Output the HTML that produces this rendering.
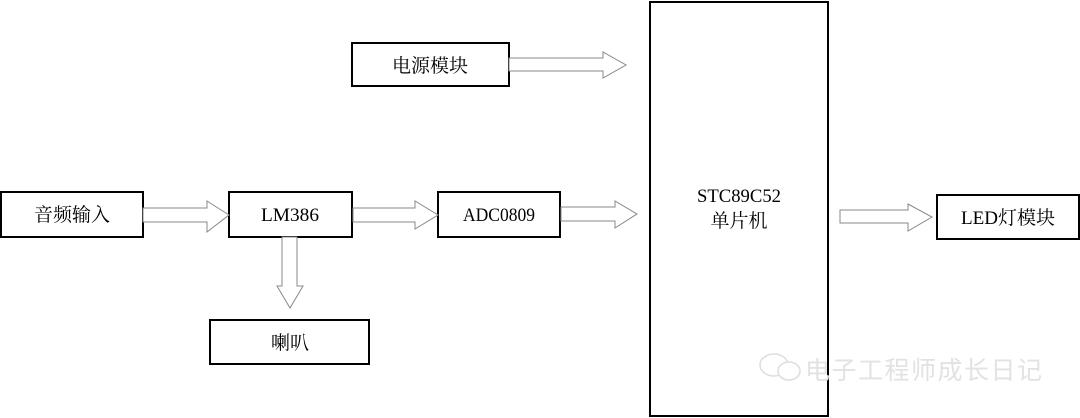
<!DOCTYPE html>
<html><head><meta charset="utf-8"><style>
body{margin:0;background:#fff;}
svg{display:block}
text{font-family:"Liberation Serif","Noto Serif CJK SC",serif;font-size:19px;fill:#000}
</style></head><body>
<svg width="1080" height="418" viewBox="0 0 1080 418" xmlns="http://www.w3.org/2000/svg">
<g fill="#fff" stroke="#000" stroke-width="2">
<rect x="1" y="192" width="142" height="45"/>
<rect x="229" y="192" width="123" height="45"/>
<rect x="438" y="192" width="122" height="45"/>
<rect x="210" y="320" width="159" height="44"/>
<rect x="352" y="43" width="157" height="43"/>
<rect x="650" y="2" width="178" height="414"/>
<rect x="937" y="195" width="142" height="44"/>
</g>
<g fill="#fff" stroke="#888" stroke-width="1">
<polygon points="143,208 207,208 207,201 229,215 207,232 207,222 143,222"/>
<polygon points="353,208 415,208 415,201 438,215 415,229 415,222 353,222"/>
<polygon points="561,207 615,207 615,201 637,214 615,228 615,221 561,221"/>
<polygon points="509,58 603,58 603,52 626,65 603,78 603,71 509,71"/>
<polygon points="840,210 908,210 908,204 932,217 908,231 908,223 840,223"/>
<polygon points="282,237 297,237 297,286 303,286 290,308 277,286 282,286"/>
</g>
<g text-anchor="middle">
<text x="72" y="221">音频输入</text>
<text x="290" y="221" textLength="58" lengthAdjust="spacingAndGlyphs">LM386</text>
<text x="499" y="221" textLength="72" lengthAdjust="spacingAndGlyphs">ADC0809</text>
<text x="290" y="349">喇叭</text>
<text x="430" y="72">电源模块</text>
<text x="739" y="202" textLength="84" lengthAdjust="spacingAndGlyphs">STC89C52</text>
<text x="739" y="227">单片机</text>
<text x="1008" y="224">LED灯模块</text>
</g>
<g fill="#fff" stroke="#ddd" stroke-width="1.5">
<ellipse cx="774" cy="365" rx="14" ry="11"/>
<ellipse cx="789" cy="371" rx="11" ry="9"/>
</g>
<text x="805" y="379" style="font-family:'Noto Sans CJK SC',sans-serif;font-size:25px;fill:#e2e2e2;letter-spacing:1.5px">电子工程师成长日记</text>
</svg>
</body></html>
